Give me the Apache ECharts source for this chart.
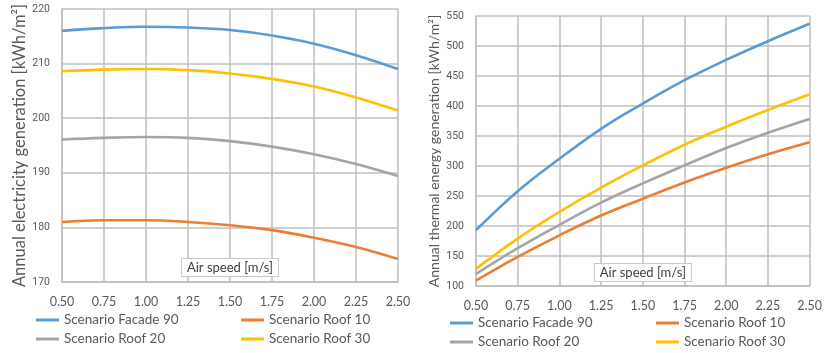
<!DOCTYPE html>
<html>
<head>
<meta charset="utf-8">
<script src="https://cdn.jsdelivr.net/npm/echarts@6/dist/echarts.min.js"></script>
<style>
html,body{margin:0;padding:0;background:#fff;}
#c{width:825px;height:353px;}
</style>
</head>
<body>
<div id="c"></div>
<script>
var airSpeed = [0.5, 0.75, 1.0, 1.25, 1.5, 1.75, 2.0, 2.25, 2.5];
var seriesNames = ['Scenario Facade 90', 'Scenario Roof 10', 'Scenario Roof 20', 'Scenario Roof 30'];
var seriesColors = ['#5B9BD5', '#ED7D31', '#A5A5A5', '#FFC000'];

var elecFacade90 = [216.0, 216.5, 216.75, 216.6, 216.15, 215.15, 213.65, 211.55, 209.0];
var elecRoof10   = [181.0, 181.3, 181.3, 181.0, 180.4, 179.5, 178.1, 176.4, 174.2];
var elecRoof20   = [196.1, 196.4, 196.55, 196.4, 195.8, 194.8, 193.4, 191.6, 189.4];
var elecRoof30   = [208.6, 208.9, 209.0, 208.8, 208.2, 207.2, 205.8, 203.8, 201.4];

var thermFacade90 = [193, 258, 312, 362, 404, 443, 477, 508, 537];
var thermRoof10   = [109, 148.5, 184.5, 217.5, 245.5, 272.5, 297, 319.5, 339.5];
var thermRoof20   = [120, 163, 202, 239, 271, 301, 330, 355.5, 378.5];
var thermRoof30   = [128.5, 179, 223.5, 264, 301, 335.5, 365.5, 393.3, 419.5];

var elecTitle = 'Annual electricity generation [kWh/m\u00B2]';
var thermTitle = 'Annual thermal energy generation [kWh/m\u00B2]';
var xTitle = 'Air speed [m/s]';

var FONT = 'Lato';
var GRID = '#BFBFBF';
var TXT = '#595959';

function pairs(ys) { return airSpeed.map(function (x, i) { return [x, ys[i]]; }); }

function xAxisCfg(gridIndex, nameGap) {
  return {
    type: 'value', gridIndex: gridIndex, min: 0.5, max: 2.5, interval: 0.25,
    name: xTitle, nameLocation: 'middle', nameGap: nameGap, nameMoveOverlap: false,
    nameTextStyle: { color: '#404040', fontFamily: FONT, fontSize: 13, backgroundColor: '#fff',
      borderColor: '#C8C8C8', borderWidth: 1, padding: [2, 5, 2, 5] },
    axisLine: { show: true, lineStyle: { color: GRID, width: 1.5 } },
    axisTick: { show: false },
    axisLabel: { color: TXT, fontFamily: FONT, fontSize: 12.5, margin: 13, formatter: function (v) { return v.toFixed(2); } },
    splitLine: { show: true, lineStyle: { color: GRID, width: 1.5 } }
  };
}
function yAxisCfg(gridIndex, min, max, interval, name, nameGap, nameSize) {
  return {
    type: 'value', gridIndex: gridIndex, min: min, max: max, interval: interval,
    name: name, nameLocation: 'middle', nameGap: nameGap, nameRotate: 90, nameMoveOverlap: false,
    nameTextStyle: { color: TXT, fontFamily: FONT, fontSize: nameSize },
    axisLine: { show: true, lineStyle: { color: GRID, width: 1.5 } },
    axisTick: { show: false },
    axisLabel: { color: TXT, fontFamily: 'Roboto', fontSize: 10.5, margin: 12 },
    splitLine: { show: true, lineStyle: { color: GRID, width: 1.5 } }
  };
}
function lineSeries(name, idx, data, axisIndex) {
  return {
    type: 'line', name: name, xAxisIndex: axisIndex, yAxisIndex: axisIndex,
    data: pairs(data), smooth: 0.4, showSymbol: false, symbol: 'none',
    lineStyle: { color: seriesColors[idx], width: 2.6 }, itemStyle: { color: seriesColors[idx] },
    z: 3 + idx
  };
}
function legendCfg(name, left, top) {
  return {
    data: [name], left: left, top: top, padding: 0, icon: 'rect', itemWidth: 23, itemHeight: 3, itemGap: 0,
    textStyle: { color: TXT, fontFamily: FONT, fontSize: 13.5 }
  };
}

var chart = echarts.init(document.getElementById('c'), null, { renderer: 'canvas' });
chart.setOption({
  backgroundColor: '#fff',
  animation: false,
  grid: [
    { left: 62, right: 427, top: 9, bottom: 71 },
    { left: 476, right: 13, top: 16, bottom: 67 }
  ],
  xAxis: [xAxisCfg(0, -23), xAxisCfg(1, -22)],
  yAxis: [
    yAxisCfg(0, 170, 220, 10, elecTitle, 34, 16.5),
    yAxisCfg(1, 100, 550, 50, thermTitle, 35, 14)
  ],
  legend: [
    legendCfg(seriesNames[0], 36, 313),
    legendCfg(seriesNames[1], 241, 313),
    legendCfg(seriesNames[2], 36, 332),
    legendCfg(seriesNames[3], 241, 332),
    legendCfg(seriesNames[0], 450, 316),
    legendCfg(seriesNames[1], 656, 316),
    legendCfg(seriesNames[2], 450, 335),
    legendCfg(seriesNames[3], 656, 335)
  ],
  series: [
    lineSeries(seriesNames[0], 0, elecFacade90, 0),
    lineSeries(seriesNames[1], 1, elecRoof10, 0),
    lineSeries(seriesNames[2], 2, elecRoof20, 0),
    lineSeries(seriesNames[3], 3, elecRoof30, 0),
    lineSeries(seriesNames[0], 0, thermFacade90, 1),
    lineSeries(seriesNames[1], 1, thermRoof10, 1),
    lineSeries(seriesNames[2], 2, thermRoof20, 1),
    lineSeries(seriesNames[3], 3, thermRoof30, 1)
  ]
});
</script>
</body>
</html>
